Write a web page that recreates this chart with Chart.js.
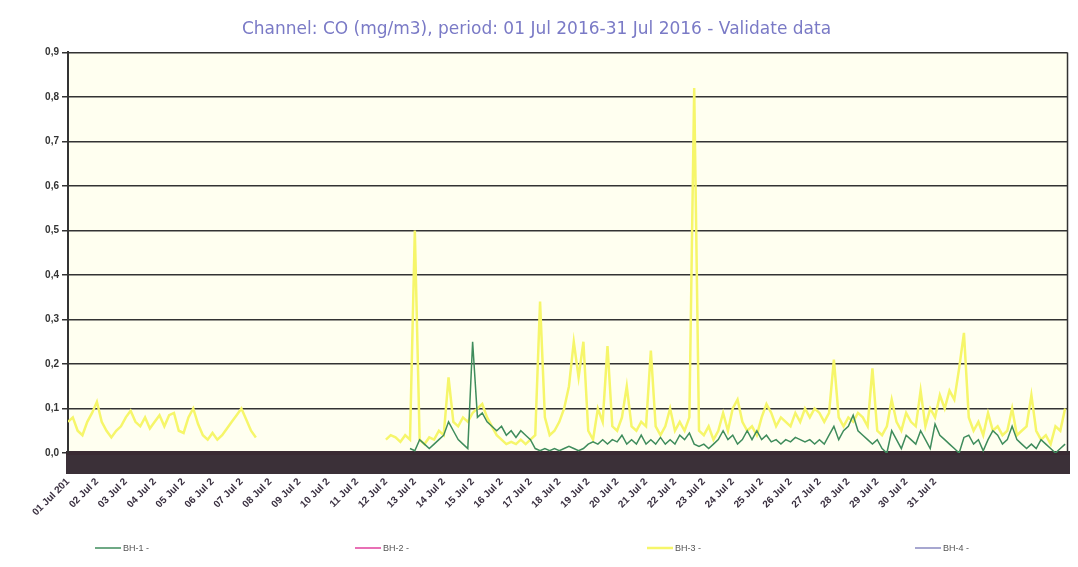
<!DOCTYPE html>
<html><head><meta charset="utf-8">
<script src="https://cdn.jsdelivr.net/npm/chart.js@4.4.1/dist/chart.umd.min.js"></script>
<style>html,body{margin:0;padding:0;background:#fff}#wrap{width:1078px;height:567px}</style>
</head><body><div id="wrap"><canvas id="c" width="1078" height="567"></canvas></div>
<script>
const titleText = 'Channel: CO (mg/m3), period: 01 Jul 2016-31 Jul 2016 - Validate data';
const seriesNames = ['BH-1 -', 'BH-2 -', 'BH-3 -', 'BH-4 -'];
const dayLabels = ['01 Jul 201','02 Jul 2','03 Jul 2','04 Jul 2','05 Jul 2','06 Jul 2','07 Jul 2','08 Jul 2','09 Jul 2','10 Jul 2',
  '11 Jul 2','12 Jul 2','13 Jul 2','14 Jul 2','15 Jul 2','16 Jul 2','17 Jul 2','18 Jul 2','19 Jul 2','20 Jul 2',
  '21 Jul 2','22 Jul 2','23 Jul 2','24 Jul 2','25 Jul 2','26 Jul 2','27 Jul 2','28 Jul 2','29 Jul 2','30 Jul 2','31 Jul 2'];
const samplesPerDay = 24;
const sampleStep = 4;      // one stored value every 4 samples
const totalSamples = 830;
const yTickValues = [0,0.1,0.2,0.3,0.4,0.5,0.6,0.7,0.8,0.9];

// BH-1 (green)
const bh1 = [
 null,null,null,null,null,null,null,null,null,null,
 null,null,null,null,null,null,null,null,null,null,
 null,null,null,null,null,null,null,null,null,null,
 null,null,null,null,null,null,null,null,null,null,
 null,null,null,null,null,null,null,null,null,null,
 null,null,null,null,null,null,null,null,null,null,
 null,null,null,null,null,null,null,null,null,null,
 null,
 0.01,0.005,0.03,0.02,0.01,0.02,0.03,0.04,0.07,0.05,
 0.03,0.02,0.01,0.25,0.08,0.09,0.07,0.06,0.05,0.06,
 0.04,0.05,0.035,0.05,0.04,0.03,0.01,0.005,0.01,0.005,
 0.01,0.005,0.01,0.015,0.01,0.005,0.01,0.02,0.025,0.02,
 0.03,0.02,0.03,0.025,0.04,0.02,0.03,0.02,0.04,0.02,
 0.03,0.02,0.035,0.02,0.03,0.02,0.04,0.03,0.045,0.02,
 0.015,0.02,0.01,0.02,0.03,0.05,0.03,0.04,0.02,0.03,
 0.05,0.03,0.05,0.03,0.04,0.025,0.03,0.02,0.03,0.025,
 0.035,0.03,0.025,0.03,0.02,0.03,0.02,0.04,0.06,0.03,
 0.05,0.06,0.085,0.05,0.04,0.03,0.02,0.03,0.01,0.0,
 0.05,0.03,0.01,0.04,0.03,0.02,0.05,0.03,0.01,0.065,
 0.04,0.03,0.02,0.01,0.0,0.035,0.04,0.02,0.03,0.005,
 0.03,0.05,0.04,0.02,0.03,0.06,0.03,0.02,0.01,0.02,
 0.01,0.03,0.02,0.01,0.0,0.01,0.02
];
// BH-2 and BH-4: no data in the period
const bh2 = [];
const bh4 = [];
// BH-3 (yellow)
const bh3 = [
 0.07,0.08,0.05,0.04,0.07,0.09,0.115,0.07,0.05,0.035,
 0.05,0.06,0.08,0.095,0.07,0.06,0.08,0.055,0.07,0.085,
 0.06,0.085,0.09,0.05,0.045,0.08,0.1,0.065,0.04,0.03,
 0.045,0.03,0.04,0.055,0.07,0.085,0.1,0.075,0.05,0.035,
 null,null,null,null,null,null,null,null,null,null,
 null,null,null,null,null,null,null,null,null,null,
 null,null,null,null,null,null,
 0.03,0.04,0.035,0.025,0.04,0.03,0.5,0.03,0.02,0.035,
 0.03,0.05,0.04,0.17,0.07,0.06,0.08,0.07,0.09,0.1,
 0.11,0.08,0.06,0.04,0.03,0.02,0.025,0.02,0.03,0.02,
 0.03,0.04,0.34,0.08,0.04,0.05,0.07,0.1,0.15,0.25,
 0.17,0.25,0.05,0.03,0.1,0.07,0.24,0.06,0.05,0.08,
 0.15,0.06,0.05,0.07,0.06,0.23,0.06,0.04,0.06,0.1,
 0.05,0.07,0.05,0.08,0.82,0.05,0.04,0.06,0.03,0.05,
 0.09,0.05,0.1,0.12,0.07,0.05,0.06,0.04,0.08,0.11,
 0.09,0.06,0.08,0.07,0.06,0.09,0.07,0.1,0.08,0.1,
 0.09,0.07,0.09,0.21,0.08,0.06,0.08,0.07,0.09,0.08,
 0.06,0.19,0.05,0.04,0.06,0.12,0.07,0.05,0.09,0.07,
 0.06,0.14,0.06,0.1,0.08,0.13,0.1,0.14,0.12,0.19,
 0.27,0.08,0.05,0.07,0.04,0.09,0.05,0.06,0.04,0.05,
 0.1,0.04,0.05,0.06,0.13,0.05,0.03,0.04,0.02,0.06,
 0.05,0.1
];

const seriesColors = ['#3f8c5c', '#e0409c', '#f6f66a', '#8a8ac0'];
const toPts = arr => arr.map((v, k) => ({x: k * sampleStep, y: v}));

const bgPlugin = {
  id: 'bg',
  beforeDraw(chart) {
    const {ctx, chartArea: a} = chart;
    ctx.save();
    ctx.fillStyle = '#ffffff';
    ctx.fillRect(0, 0, chart.width, chart.height);
    ctx.fillStyle = '#fffff0';
    ctx.fillRect(a.left, a.top, a.right - a.left, a.bottom - a.top);
    ctx.restore();
  },
  afterDraw(chart) {
    const {ctx, chartArea: a} = chart;
    ctx.save();
    ctx.strokeStyle = '#333';
    ctx.lineWidth = 1.5;
    ctx.beginPath();
    ctx.moveTo(a.right, a.top); ctx.lineTo(a.right, a.bottom);
    ctx.stroke();
    // legend
    const xs = [95, 355, 647, 915];
    const y = 548;
    ctx.font = '9px "Liberation Sans", Arial, sans-serif';
    ctx.textBaseline = 'middle';
    chart.data.datasets.forEach((ds, i) => {
      ctx.strokeStyle = seriesColors[i];
      ctx.lineWidth = i === 2 ? 2.5 : 1.5;
      ctx.beginPath(); ctx.moveTo(xs[i], y); ctx.lineTo(xs[i] + 26, y); ctx.stroke();
      ctx.fillStyle = '#555';
      ctx.fillText(ds.label, xs[i] + 28, y + 1);
    });
    ctx.restore();
  }
};

new Chart(document.getElementById('c'), {
  type: 'line',
  data: {
    datasets: [
      {label: seriesNames[0], data: toPts(bh1), borderColor: seriesColors[0], borderWidth: 1.5, pointRadius: 0, tension: 0, spanGaps: false},
      {label: seriesNames[1], data: toPts(bh2), borderColor: seriesColors[1], borderWidth: 1.5, pointRadius: 0},
      {label: seriesNames[2], data: toPts(bh3), borderColor: seriesColors[2], borderWidth: 2.5, pointRadius: 0, tension: 0, spanGaps: false},
      {label: seriesNames[3], data: toPts(bh4), borderColor: seriesColors[3], borderWidth: 1.5, pointRadius: 0}
    ]
  },
  options: {
    responsive: false,
    animation: false,
    devicePixelRatio: 1,
    layout: {padding: {left: 0, right: 5, top: 0, bottom: 32}},
    plugins: {
      legend: {display: false},
      tooltip: {enabled: false},
      title: {
        display: true, text: titleText, color: '#7a7ac6',
        font: {family: '"DejaVu Sans", Verdana, sans-serif', size: 17, weight: 'normal'},
        padding: {top: 19, bottom: 13}
      }
    },
    scales: {
      x: {
        type: 'linear', min: 0, max: totalSamples,
        afterFit(s) { s.height = 82; },
        ticks: {
          stepSize: 1, autoSkip: false, maxRotation: 45, minRotation: 45, padding: 2,
          color: '#3a3040',
          font: {family: '"Liberation Sans", Arial, sans-serif', size: 10, weight: 'bold'},
          callback: v => (v % samplesPerDay === 0 && v / samplesPerDay < dayLabels.length) ? dayLabels[v / samplesPerDay] : ''
        },
        grid: {drawOnChartArea: false, drawTicks: true, tickLength: 21, color: '#3b3038', lineWidth: 4},
        border: {color: '#3a2a33', width: 4}
      },
      y: {
        min: 0, max: 0.9,
        afterFit(s) { s.width = 68; },
        afterBuildTicks(s) { s.ticks = yTickValues.map(v => ({value: v})); },
        ticks: {
          color: '#333', padding: 3,
          font: {family: '"Liberation Sans", Arial, sans-serif', size: 10, weight: 'bold'},
          callback: v => v.toFixed(1).replace('.', ',')
        },
        grid: {color: '#333', lineWidth: 1.5, tickLength: 6},
        border: {color: '#333', width: 2}
      }
    }
  },
  plugins: [bgPlugin]
});
</script></body></html>
